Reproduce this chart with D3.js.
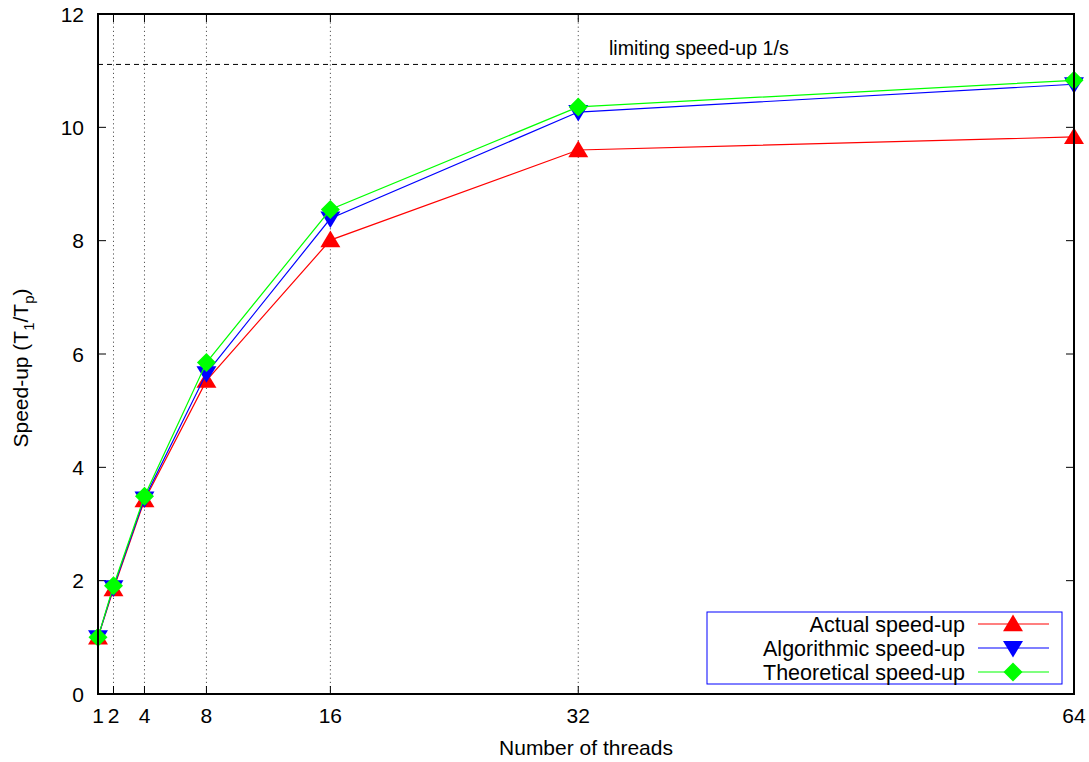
<!DOCTYPE html>
<html>
<head>
<meta charset="utf-8">
<script src="https://cdn.jsdelivr.net/npm/d3@7"></script>
<style>
  html, body { margin: 0; padding: 0; background: #fff; }
  svg { display: block; font-family: "Liberation Sans", Arial, sans-serif; }
</style>
</head>
<body>
<div id="chart"></div>
<script>
// Speed-up vs thread count, three series plus a limiting hairline (gnuplot look).

const threads = [1, 2, 4, 8, 16, 32, 64];
const actual = [1.0, 1.85, 3.42, 5.53, 8.01, 9.60, 9.83];
const algorithmic = [1.0, 1.88, 3.45, 5.66, 8.39, 10.27, 10.76];
const theoretical = [1.0, 1.91, 3.49, 5.85, 8.55, 10.36, 10.83];
const limit = 11.11;
const yTicks = [0, 2, 4, 6, 8, 10, 12];

const W = 1089, H = 762;
const margin = { top: 14, right: 15, bottom: 68, left: 98 };
const innerW = W - margin.left - margin.right;
const innerH = H - margin.top - margin.bottom;
const FS = '21px';

const svg = d3.select('#chart').append('svg').attr('width', W).attr('height', H);
const g = svg.append('g').attr('transform', `translate(${margin.left},${margin.top})`);

const x = d3.scaleLinear().domain([1, 64]).range([0, innerW]);
const y = d3.scaleLinear().domain([0, 12]).range([innerH, 0]);

// vertical dotted grid at x tics
g.append('g').selectAll('line').data(threads.filter((t) => t > 1 && t < 64)).join('line')
  .attr('x1', (d) => x(d)).attr('x2', (d) => x(d)).attr('y1', 0).attr('y2', innerH)
  .style('stroke', '#555').attr('stroke-width', 1).attr('stroke-dasharray', '1.2,3');

// limiting speed-up
g.append('line')
  .attr('x1', 0).attr('x2', innerW).attr('y1', y(limit)).attr('y2', y(limit))
  .style('stroke', '#000').attr('stroke-width', 1).attr('stroke-dasharray', '5,4');
g.append('text')
  .attr('x', 511).attr('y', y(limit) - 9)
  .style('font-size', '19.6px').style('fill', '#000')
  .text('limiting speed-up 1/s');

// ticks, inward and mirrored
const tickLen = 8;
const ticks = g.append('g').style('stroke', '#000').attr('stroke-width', 1);
yTicks.forEach((v) => {
  ticks.append('line').attr('x1', 0).attr('x2', tickLen).attr('y1', y(v)).attr('y2', y(v));
  ticks.append('line').attr('x1', innerW).attr('x2', innerW - tickLen).attr('y1', y(v)).attr('y2', y(v));
});
threads.forEach((t) => {
  ticks.append('line').attr('x1', x(t)).attr('x2', x(t)).attr('y1', innerH).attr('y2', innerH - tickLen);
  ticks.append('line').attr('x1', x(t)).attr('x2', x(t)).attr('y1', 0).attr('y2', tickLen);
});

// tick labels
g.append('g').selectAll('text').data(yTicks).join('text')
  .attr('x', -14).attr('y', (d) => y(d)).attr('dy', '0.36em').attr('text-anchor', 'end')
  .style('font-size', FS).text((d) => d);
g.append('g').selectAll('text').data(threads).join('text')
  .attr('x', (d) => x(d)).attr('y', innerH + 29).attr('text-anchor', 'middle')
  .style('font-size', FS).text((d) => d);

// axis titles
svg.append('text')
  .attr('x', margin.left + innerW / 2).attr('y', 755).attr('text-anchor', 'middle')
  .style('font-size', FS).text('Number of threads');
const yl = svg.append('text')
  .attr('transform', `translate(28,${margin.top + innerH / 2 + 14}) rotate(-90)`)
  .attr('text-anchor', 'middle').style('font-size', FS);
yl.append('tspan').text('Speed-up (T');
yl.append('tspan').attr('dy', 6).style('font-size', '15px').text('1');
yl.append('tspan').attr('dy', -6).text('/T');
yl.append('tspan').attr('dy', 6).style('font-size', '15px').text('p');
yl.append('tspan').attr('dy', -6).text(')');

// series
const series = [
  { name: 'Actual speed-up', values: actual, color: '#ff0000', sym: 'up' },
  { name: 'Algorithmic speed-up', values: algorithmic, color: '#0000ff', sym: 'down' },
  { name: 'Theoretical speed-up', values: theoretical, color: '#00ff00', sym: 'diamond' },
];

function marker(sym, cx, cy) {
  const s = 9.5;
  if (sym === 'up') return `M${cx},${cy - s} L${cx + s * 1.05},${cy + s * 0.75} L${cx - s * 1.05},${cy + s * 0.75} Z`;
  if (sym === 'down') return `M${cx},${cy + s} L${cx + s * 1.05},${cy - s * 0.75} L${cx - s * 1.05},${cy - s * 0.75} Z`;
  return `M${cx},${cy - s} L${cx + s},${cy} L${cx},${cy + s} L${cx - s},${cy} Z`;
}

const line = d3.line().x((d) => x(d[0])).y((d) => y(d[1]));
series.forEach((s) => {
  const pts = threads.map((t, i) => [t, s.values[i]]);
  g.append('path').datum(pts).attr('d', line)
    .style('fill', 'none').style('stroke', s.color).attr('stroke-width', 1.2);
  g.append('g').selectAll('path').data(pts).join('path')
    .attr('d', (d) => marker(s.sym, x(d[0]), y(d[1])))
    .style('fill', s.color);
});

// frame
g.append('rect').attr('x', 0).attr('y', 0).attr('width', innerW).attr('height', innerH)
  .style('fill', 'none').style('stroke', '#000').attr('stroke-width', 2);

// legend
const lg = svg.append('g');
lg.append('rect').attr('x', 707).attr('y', 612).attr('width', 355).attr('height', 72)
  .style('fill', '#fff').style('stroke', '#0000ff').attr('stroke-width', 1);
series.forEach((s, i) => {
  const ly = 624 + i * 24;
  lg.append('text').attr('x', 965).attr('y', ly).attr('dy', '0.36em').attr('text-anchor', 'end')
    .style('font-size', '21.5px').text(s.name);
  lg.append('line').attr('x1', 978).attr('x2', 1049).attr('y1', ly).attr('y2', ly)
    .style('stroke', s.color).attr('stroke-width', 1.2);
  lg.append('path').attr('d', marker(s.sym, 1013, ly)).style('fill', s.color);
});
</script>
</body>
</html>
